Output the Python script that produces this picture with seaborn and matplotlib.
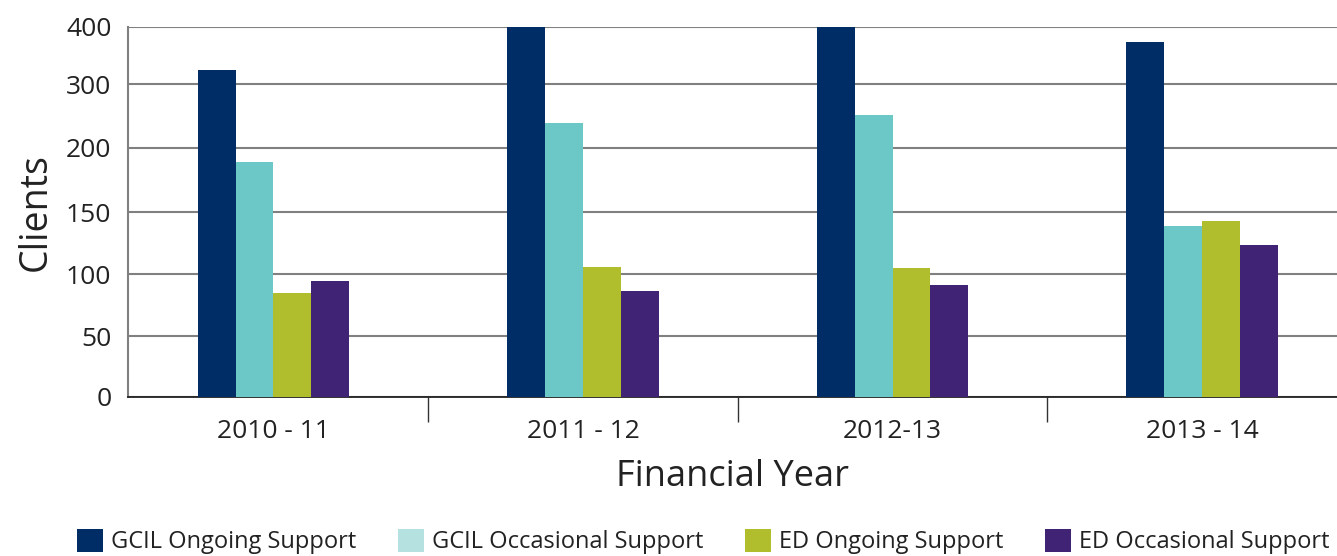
import numpy as np
import pandas as pd
import matplotlib
matplotlib.use("Agg")
import matplotlib.pyplot as plt
from matplotlib.patches import Patch
from matplotlib.ticker import FixedLocator
import seaborn as sns

years = ["2010 - 11", "2011 - 12", "2012-13", "2013 - 14"]
series = ["GCIL Ongoing Support", "GCIL Occasional Support", "ED Ongoing Support", "ED Occasional Support"]
gcil_ongoing = [325, 400, 400, 374]
gcil_occasional = [189, 239, 251, 139]
ed_ongoing = [85, 106, 105, 143]
ed_occasional = [94, 86, 91, 123]
y_ticks = [0, 50, 100, 150, 200, 300, 400]

bar_colors = ["#012d67", "#6cc8c7", "#b0be2e", "#412376"]
legend_colors = ["#012d67", "#b6e1e1", "#b0be2e", "#412376"]

values = [gcil_ongoing, gcil_occasional, ed_ongoing, ed_occasional]
df = pd.DataFrame({
    "year": [y for s in series for y in years],
    "series": [s for s in series for _ in years],
    "clients": [v for vals in values for v in vals],
})

sns.set_theme(style="white")
plt.rcParams["font.family"] = ["Open Sans", "DejaVu Sans"]

fig = plt.figure(figsize=(13.37, 5.56), dpi=100)
ax = fig.add_axes([128 / 1337, 1 - 397 / 556, 1 - 128 / 1337, 370 / 556])

sns.barplot(data=df, x="year", y="clients", hue="series", order=years,
            hue_order=series, palette=bar_colors, width=0.49, gap=0,
            saturation=1, linewidth=0, legend=False, ax=ax, zorder=3)

# uneven axis: equally spaced gridlines labelled 0,50,100,150,200,300,400
knots = np.array([0, 61, 123, 185, 249.5, 313, 370], dtype=float)
tv = np.array(y_ticks, dtype=float)
fwd = lambda v: np.interp(v, tv, knots)
inv = lambda p: np.interp(p, knots, tv)
ax.set_yscale("function", functions=(fwd, inv))
ax.set_ylim(0, 400)
ax.yaxis.set_major_locator(FixedLocator(y_ticks))
ax.set_yticklabels([str(t) for t in y_ticks])

ax.set_xlim(-0.47, 3.436)
ax.xaxis.set_minor_locator(FixedLocator([0.5, 1.5, 2.5]))
ax.tick_params(axis="x", which="major", length=0, pad=16, labelsize=19, labelcolor="#222222")
ax.tick_params(axis="x", which="minor", length=18, width=1.0, color="#333333", bottom=True)
ax.tick_params(axis="y", which="major", length=0, pad=12, labelsize=19, labelcolor="#222222")

ax.grid(axis="y", color="#808080", linewidth=1.5, zorder=0)
ax.set_axisbelow(True)
for s in ["top", "right"]:
    ax.spines[s].set_visible(False)
ax.spines["left"].set_color("#808080")
ax.spines["left"].set_linewidth(1.5)
ax.spines["bottom"].set_color("#222222")
ax.spines["bottom"].set_linewidth(1.3)

ax.set_xlabel("Financial Year", fontsize=26, color="#222222", labelpad=11)
ax.set_ylabel("Clients", fontsize=27, color="#222222", labelpad=8)

handles = [Patch(facecolor=c, edgecolor="none") for c in legend_colors]
fig.legend(handles, series, loc="lower center", ncol=4, bbox_to_anchor=(0.526, -0.035),
           frameon=False, fontsize=17, handlelength=1.1, handleheight=1.1,
           handletextpad=0.35, columnspacing=1.75, labelcolor="#222222")

fig.savefig("out.png", dpi=100)
